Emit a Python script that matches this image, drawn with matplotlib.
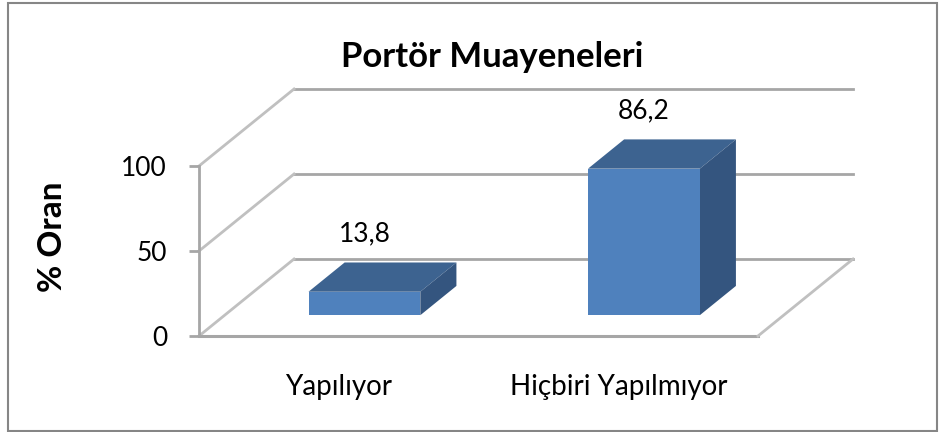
import matplotlib
matplotlib.use("Agg")
import matplotlib.pyplot as plt
from matplotlib.patches import Polygon, Rectangle

plt.rcParams['font.family'] = ['Lato', 'DejaVu Sans']

# veriler
categories = ["Yapılıyor", "Hiçbiri Yapılmıyor"]
values = [13.8, 86.2]
value_labels = ["13,8", "86,2"]
yticks = [0, 50, 100]
title = "Portör Muayeneleri"
ylabel = "% Oran"

# 3B görünüm için derinlik (veri birimlerinde)
depth_x = 0.34
depth_y = 45.3
bar_w = 0.40
bar_start = 0.27   # tabanın derinliğinde çubuğun başladığı oran
bar_depth = 0.38

front_c = "#4F81BD"
top_c = "#3D6390"
side_c = "#34557F"
grid_c = "#A6A6A6"
wall_c = "#C0C0C0"

fig = plt.figure(figsize=(9.42, 4.32), dpi=100)
ax = fig.add_axes([199 / 942, 96 / 432, 559 / 942, 170 / 432])
ax.set_xlim(-0.5, len(categories) - 0.5)
ax.set_ylim(0, 100)
ax.patch.set_visible(False)

xl, xr = -0.5, len(categories) - 0.5

# arka duvar çizgileri ve sol duvar çaprazları
for v in yticks:
    ax.plot([xl + depth_x, xr + depth_x], [v + depth_y, v + depth_y],
            color=grid_c, lw=2, clip_on=False, zorder=1)
    ax.plot([xl, xl + depth_x], [v, v + depth_y],
            color=wall_c, lw=2, clip_on=False, zorder=1)
# taban
ax.plot([xl, xr], [0, 0], color=grid_c, lw=2.2, clip_on=False, zorder=1)
ax.plot([xr, xr + depth_x], [0, depth_y], color=wall_c, lw=2, clip_on=False, zorder=1)

# çubuklar
for i, (v, lab) in enumerate(zip(values, value_labels)):
    x0 = i - bar_w / 2 + bar_start * depth_x
    x1 = x0 + bar_w
    y0 = bar_start * depth_y
    y1 = y0 + v
    ddx = bar_depth * depth_x
    ddy = bar_depth * depth_y
    ax.add_patch(Polygon([(x0, y1), (x1, y1), (x1 + ddx, y1 + ddy), (x0 + ddx, y1 + ddy)],
                         closed=True, fc=top_c, ec="none", clip_on=False, zorder=3))
    ax.add_patch(Polygon([(x1, y0), (x1 + ddx, y0 + ddy), (x1 + ddx, y1 + ddy), (x1, y1)],
                         closed=True, fc=side_c, ec="none", clip_on=False, zorder=3))
    ax.add_patch(Rectangle((x0, y0), bar_w, v, fc=front_c, ec="none",
                           clip_on=False, zorder=4))
    ax.annotate(lab, ((x0 + x1) / 2, y1), xytext=(0, 42), textcoords="offset points",
                ha="center", va="center", fontsize=19, annotation_clip=False)

# eksenler
for s in ["top", "right", "bottom"]:
    ax.spines[s].set_visible(False)
ax.spines["left"].set_color(grid_c)
ax.spines["left"].set_linewidth(2)
ax.spines["left"].set_zorder(2)
ax.set_yticks(yticks)
ax.tick_params(axis="y", length=7, width=2, color=grid_c, pad=16, labelsize=19)
ax.set_xticks(range(len(categories)))
ax.set_xticklabels(categories)
ax.tick_params(axis="x", length=0, pad=27, labelsize=20)

fig.text(52 / 942, 1 - 237 / 432, ylabel, rotation=90, ha="center", va="center",
         fontsize=24, fontweight="bold")

fig.text(492 / 942, 1 - 57 / 432, title, ha="center", va="center",
         fontsize=25, fontweight="bold")

# çerçeve
fig.add_artist(Rectangle((7.5 / 942, 1.5 / 432), 929 / 942, 428 / 432,
                         transform=fig.transFigure, fill=False, ec="#868686", lw=1.5))

fig.savefig("out.png", dpi=100)
